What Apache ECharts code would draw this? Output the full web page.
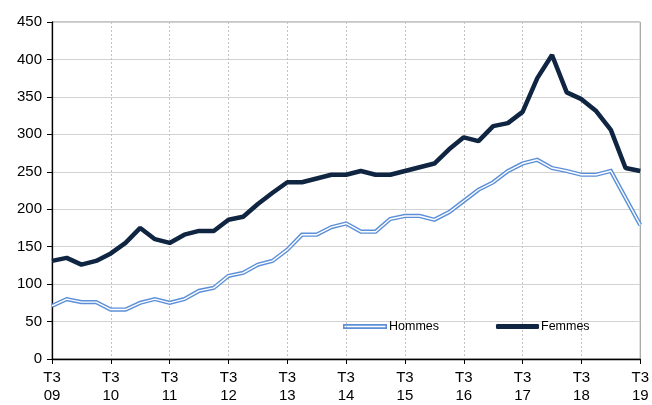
<!DOCTYPE html>
<html>
<head>
<meta charset="utf-8">
<script src="https://cdn.jsdelivr.net/npm/echarts@6/dist/echarts.min.js"></script>
<style>
  html, body { margin: 0; padding: 0; background: #fff; }
  #main { width: 652px; height: 405px; }
</style>
</head>
<body>
<div id="main"></div>
<script>
// trimestres T3 2009 -> T3 2019
var quarters = [];
for (var y = 9; y <= 19; y++) {
  var yy = (y < 10 ? '0' : '') + y;
  quarters.push('T3\n' + yy);
  if (y < 19) {
    quarters.push('T4\n' + yy);
    var ny = (y + 1 < 10 ? '0' : '') + (y + 1);
    quarters.push('T1\n' + ny);
    quarters.push('T2\n' + ny);
  }
}

var hommes = [71, 80, 76, 76, 66, 66, 75, 80, 75, 80,
              91, 95, 111, 115, 126, 131, 146, 166, 166, 176,
              181, 170, 170, 187, 191, 191, 186, 196, 211, 226,
              236, 251, 261, 266, 255, 251, 246, 246, 251, 215,
              179];

var femmes = [131, 135, 126, 131, 141, 155, 175, 160, 155, 166,
              171, 171, 186, 190, 207, 222, 236, 236, 241, 246,
              246, 251, 246, 246, 251, 256, 261, 280, 296, 291,
              311, 315, 330, 375, 406, 356, 347, 331, 306, 255,
              251];

var yTicks = [0, 50, 100, 150, 200, 250, 300, 350, 400, 450];

var chart = echarts.init(document.getElementById('main'));

function yearly(i) { return i % 4 === 0; }

var option = {
  animation: false,
  textStyle: { fontFamily: 'Liberation Sans, Arial, sans-serif' },
  grid: {
    left: 52, right: 9, top: 22, bottom: 45,
    show: true, borderColor: '#8c8c8c', borderWidth: 1
  },
  legend: [{
    left: 343, top: 320, padding: 0,
    itemWidth: 44, itemHeight: 6, itemGap: 4,
    textStyle: { fontSize: 12.5, color: '#000', padding: [0, 0, 0, -3] },
    data: [{
      name: 'Hommes',
      icon: 'path://M0,0H44V5H0Z M1.5,1.7V3.3H42.5V1.7Z',
      itemStyle: { color: '#5b8fd8' }
    }]
  }, {
    left: 496, top: 320, padding: 0,
    itemWidth: 43, itemHeight: 5, itemGap: 4,
    textStyle: { fontSize: 12.5, color: '#000', padding: [0, 0, 0, -3] },
    data: [{ name: 'Femmes', icon: 'roundRect', itemStyle: { color: '#0f2541' } }]
  }],
  xAxis: {
    type: 'category',
    data: quarters,
    boundaryGap: false,
    axisLine: { lineStyle: { color: '#000', width: 1.3 } },
    axisTick: { interval: function (i) { return yearly(i); }, length: 5, lineStyle: { color: '#000' } },
    axisLabel: {
      interval: function (i) { return yearly(i); },
      color: '#000', fontSize: 15, lineHeight: 18, margin: 10
    },
    splitLine: {
      show: true,
      interval: function (i) { return yearly(i) && i > 0 && i < 40; },
      lineStyle: { color: '#c4c4c4', type: [2, 2], width: 1 }
    }
  },
  yAxis: {
    type: 'value',
    min: 0, max: 450, interval: 50,
    axisLine: { show: true, lineStyle: { color: '#000', width: 1.3 } },
    axisTick: { show: true, length: 5, lineStyle: { color: '#000' } },
    axisLabel: { color: '#000', fontSize: 15, margin: 10,
      formatter: function (v) { return yTicks.indexOf(v) >= 0 ? String(v) : ''; } },
    splitLine: { show: true, lineStyle: { color: '#d2d2d2', width: 1 } }
  },
  series: [{
    name: 'Hommes',
    type: 'line',
    data: hommes,
    symbol: 'none',
    lineStyle: { color: '#5b8fd8', width: 4.2, join: 'miter' },
    itemStyle: { color: '#5b8fd8' },
    z: 2
  }, {
    name: 'HommesInner',
    type: 'line',
    data: hommes,
    symbol: 'none',
    silent: true,
    lineStyle: { color: '#ffffff', width: 1.4 },
    z: 3
  }, {
    name: 'Femmes',
    type: 'line',
    data: femmes,
    symbol: 'none',
    lineStyle: { color: '#0f2541', width: 4.5 },
    itemStyle: { color: '#0f2541' },
    z: 4
  }]
};

chart.setOption(option);
</script>
</body>
</html>
